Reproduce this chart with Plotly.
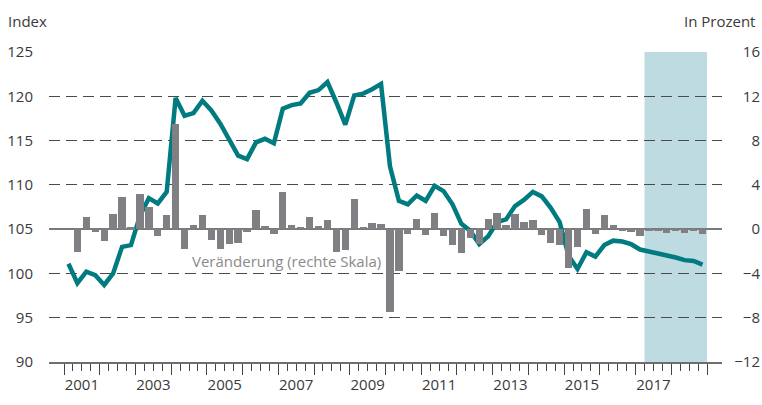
import plotly.graph_objects as go

# ---- data -------------------------------------------------------------
years = list(range(2001, 2019))           # quarterly data 2001Q1 .. 2018Q4
quarters = [1, 2, 3, 4]

index_values = [
    101.1, 98.9, 100.2, 99.8, 98.7, 100.0, 103.0, 103.2,
    106.5, 108.5, 107.9, 109.2, 119.8, 117.8, 118.1, 119.5,
    118.4, 116.9, 115.1, 113.3, 112.9, 114.8, 115.2, 114.7,
    118.6, 119.0, 119.2, 120.4, 120.7, 121.6, 119.3, 116.8,
    120.1, 120.3, 120.8, 121.4, 112.1, 108.2, 107.8, 108.8,
    108.2, 109.9, 109.3, 107.8, 105.6, 104.8, 103.3, 104.2,
    105.8, 106.1, 107.6, 108.3, 109.2, 108.7, 107.4, 105.8,
    102.0, 100.5, 102.4, 101.9, 103.2, 103.7, 103.6, 103.3,
    102.7, 102.5, 102.3, 102.0, 101.8, 101.5, 101.4, 101.0,
]

change_pct = [
    None, -2.1, 1.1, -0.25, -1.1, 1.4, 2.9, 0.15,
    3.2, 2.0, -0.6, 1.25, 9.5, -1.75, 0.35, 1.25,
    -1.0, -1.75, -1.3, -1.25, -0.3, 1.7, 0.3, -0.4,
    3.35, 0.35, 0.2, 1.1, 0.3, 0.8, -2.05, -1.9,
    2.75, 0.2, 0.6, 0.5, -7.45, -3.8, -0.4, 0.95,
    -0.55, 1.5, -0.6, -1.4, -2.15, -0.8, -1.3, 0.95,
    1.5, 0.35, 1.4, 0.65, 0.85, -0.55, -1.25, -1.4,
    -3.5, -1.6, 1.8, -0.4, 1.25, 0.4, -0.1, -0.3,
    -0.6, -0.15, -0.1, -0.35, -0.1, -0.35, -0.15, -0.45,
]

left_ticks = [90, 95, 100, 105, 110, 115, 120, 125]
right_ticks = [-12, -8, -4, 0, 4, 8, 12, 16]
year_labels = [2001, 2003, 2005, 2007, 2009, 2011, 2013, 2015, 2017]
forecast_start = 2017.25
forecast_end = 2019.0

# quarter mid-points on a fractional-year scale
x_q = [y + (q - 0.5) / 4 for y in years for q in quarters]

# ---- styling -----------------------------------------------------------
FONT = "Open Sans"
TXT = "#3a3a3a"
TEAL = "#007b7f"
BARC = "#808084"
SHADE = "#bddbe1"
GRID = "#4a4a4a"

W, H = 762, 405
ML, MR, MT, MB = 49, 2, 52, 43
plot_right = 722
PW = W - ML - MR
PH = H - MT - MB
xdom = (plot_right - ML) / PW
xr = [2001 - 15 / 35.72, 2019 + 15 / 35.72]

fig = go.Figure()

fig.add_trace(go.Bar(
    x=x_q, y=change_pct, yaxis="y2", width=0.205,
    marker=dict(color=BARC, line=dict(width=0)),
    showlegend=False, hoverinfo="skip",
))
fig.add_trace(go.Scatter(
    x=x_q, y=index_values, yaxis="y", mode="lines",
    line=dict(color=TEAL, width=4.5),
    showlegend=False,
))

fig.add_shape(type="rect", xref="x", yref="paper",
              x0=forecast_start, x1=forecast_end, y0=0, y1=1,
              fillcolor=SHADE, line=dict(width=0), layer="below")

minor_vals = [y + k / 4 for y in range(2001, 2019) for k in (1, 2, 3)]

fig.update_layout(
    width=W, height=H,
    margin=dict(l=ML, r=MR, t=MT, b=MB, autoexpand=False),
    paper_bgcolor="white", plot_bgcolor="rgba(0,0,0,0)",
    font=dict(family=FONT, size=15, color=TXT),
    bargap=0,
    xaxis=dict(
        domain=[0, xdom], range=xr, showgrid=False, zeroline=False,
        showline=True, linecolor="#6e6e6e", linewidth=1.5,
        tickmode="array", tickvals=list(range(2001, 2020)),
        ticks="outside", ticklen=11, tickwidth=1, tickcolor="#444",
        showticklabels=False,
        minor=dict(tickmode="array", tickvals=minor_vals, ticks="outside",
                   ticklen=7, tickwidth=1, tickcolor="#444", showgrid=False),
    ),
    xaxis2=dict(
        domain=[0, xdom], range=xr, overlaying="x", anchor="y", side="bottom",
        showgrid=False, zeroline=False, showline=False, ticks="",
        tickmode="array", tickvals=[y + 0.5 for y in year_labels],
        ticktext=[str(y) for y in year_labels],
        tickfont=dict(family=FONT, size=15, color=TXT),
        ticklabelstandoff=12,
    ),
    yaxis=dict(
        range=[90, 125], tickmode="array", tickvals=left_ticks,
        showgrid=False, zeroline=False, showline=False, ticks="",
        tickfont=dict(family=FONT, size=15, color=TXT),
        ticklabelstandoff=15,
    ),
    yaxis2=dict(
        range=[-12, 16], overlaying="y", anchor="x", side="right",
        tickmode="array", tickvals=[-8, -4, 4, 8, 12, 16],
        showticklabels=False, ticks="",
        showgrid=True, gridcolor=GRID, gridwidth=1, griddash="11px,6px",
        zeroline=True, zerolinecolor="#7a7a7a", zerolinewidth=1.5,
        showline=False,
    ),
    yaxis3=dict(
        range=[-12, 16], overlaying="y", anchor="free", position=1, side="left",
        tickmode="array", tickvals=right_ticks,
        showgrid=False, zeroline=False, showline=False, ticks="",
        tickfont=dict(family=FONT, size=15, color=TXT),
    ),
)

# invisible helper trace so yaxis3 and xaxis2 are drawn
fig.add_trace(go.Scatter(x=[xr[0]], y=[0], xaxis="x2", yaxis="y3", mode="markers",
                         marker=dict(opacity=0), showlegend=False, hoverinfo="skip"))

fig.add_annotation(text="Veränderung (rechte Skala)", xref="x", yref="y2",
                   x=2001 + (190 - 64) / 35.72, y=-2.85, xanchor="left", yanchor="middle",
                   showarrow=False, font=dict(family=FONT, size=15, color="#8a8a8a"))
fig.add_annotation(text="Index", xref="paper", yref="paper",
                   x=-(ML - 6) / PW, y=1 + (MT - 21) / PH,
                   xanchor="left", yanchor="middle", showarrow=False,
                   font=dict(family=FONT, size=15, color=TXT))
fig.add_annotation(text="In Prozent", xref="paper", yref="paper",
                   x=1 - 3 / PW, y=1 + (MT - 21) / PH,
                   xanchor="right", yanchor="middle", showarrow=False,
                   font=dict(family=FONT, size=15, color=TXT))

fig.write_html("out.html", config={"displayModeBar": False},
               post_script="document.body.style.margin='0px';")
